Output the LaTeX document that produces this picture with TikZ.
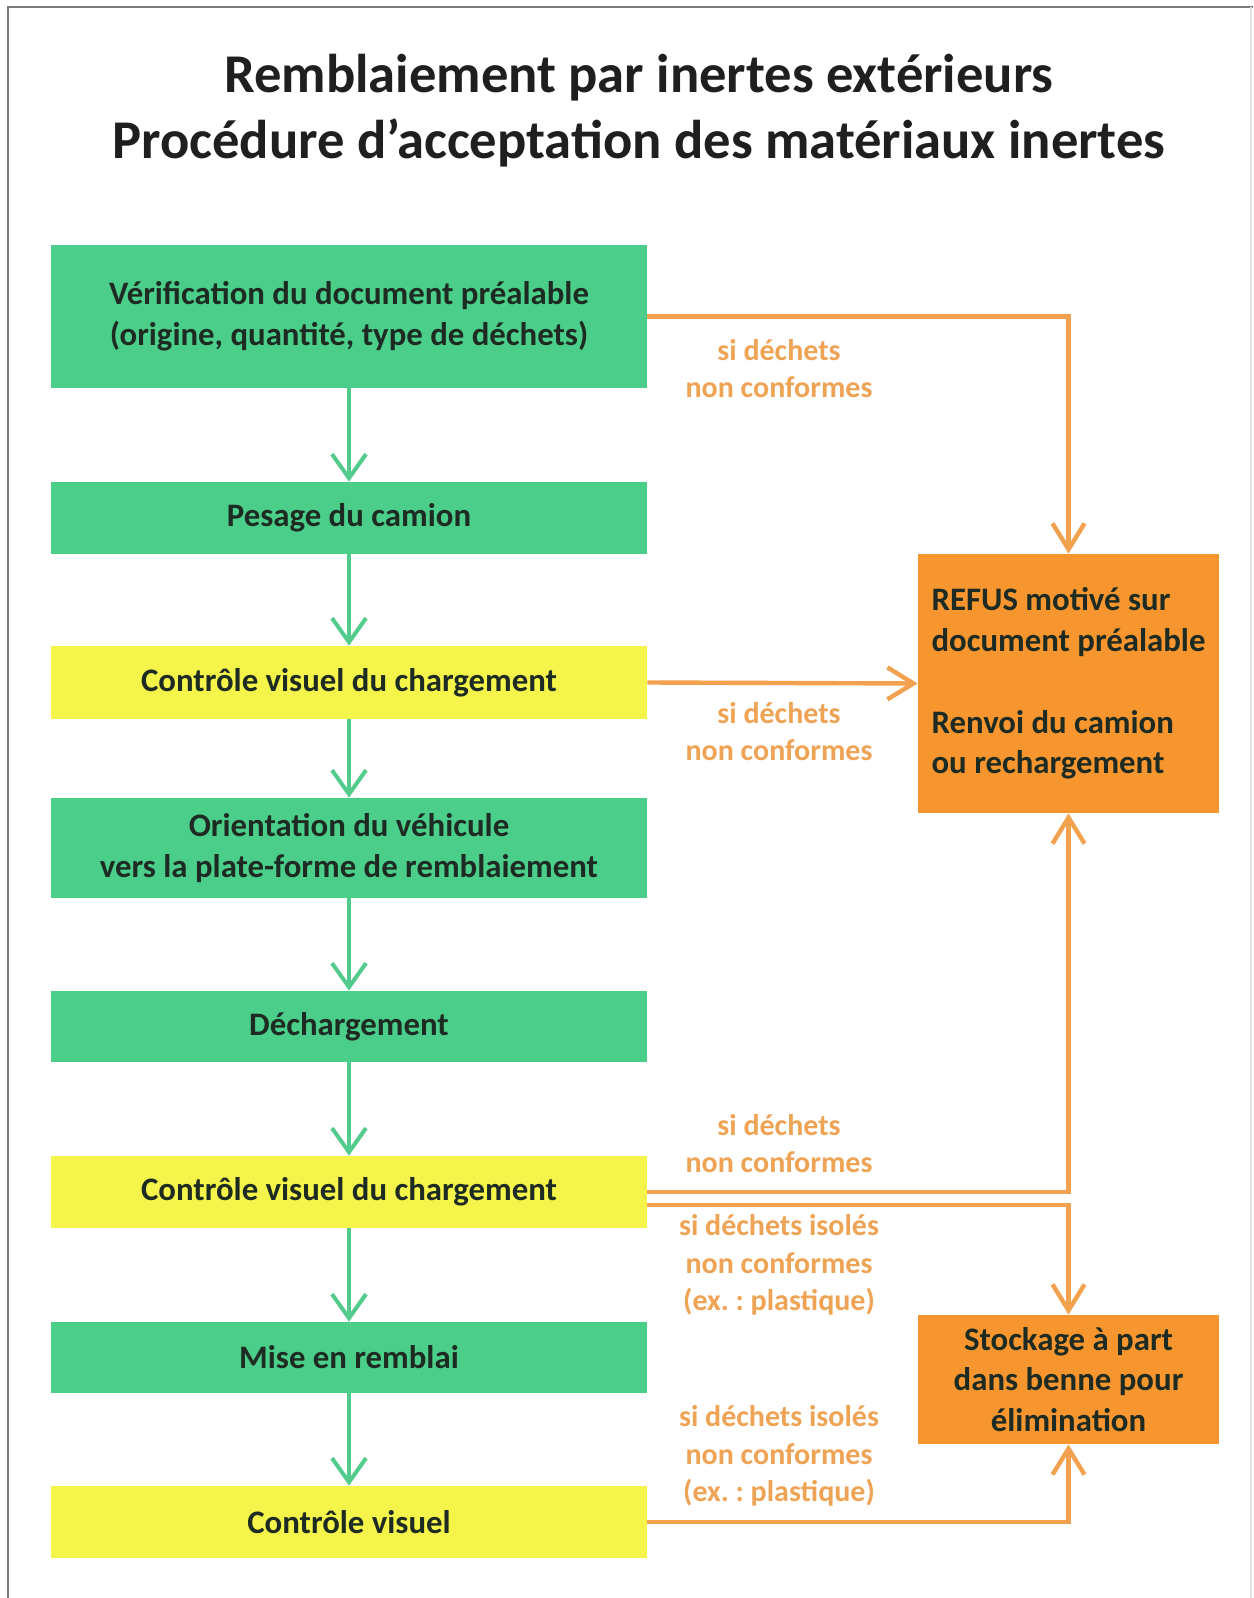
\documentclass[tikz,border=0pt]{standalone}
\usepackage{fontspec}
\setmainfont{Carlito}
\frenchspacing
\usetikzlibrary{arrows.meta}

\definecolor{boxgreen}{HTML}{4BCE8A}
\definecolor{arrowgreen}{HTML}{52CB8C}
\definecolor{boxyellow}{HTML}{F4F44A}
\definecolor{boxorange}{HTML}{F7962F}
\definecolor{lineorange}{HTML}{F2A14E}
\definecolor{textorange}{HTML}{EFA354}
\definecolor{inkdark}{HTML}{1E2B22}
\definecolor{framegray}{HTML}{7A7A7A}

\tikzset{
  stepbox/.style={fill=boxgreen, minimum width=298pt, inner sep=0pt,
    align=center, text=inkdark, font=\bfseries\fontsize{16.4}{20.4}\selectfont},
  checkbox/.style={stepbox, fill=boxyellow},
  outbox/.style={fill=boxorange, minimum width=150.5pt, inner sep=0pt,
    text=inkdark, font=\bfseries\fontsize{16.4}{20.4}\selectfont},
  cond/.style={text=textorange, align=center,
    font=\bfseries\fontsize{15}{18.9}\selectfont},
  flow/.style={draw=arrowgreen, line width=2pt,
    -{Straight Barb[length=12pt,width=17pt,line width=2pt]}},
  reject/.style={draw=lineorange, line width=2.2pt,
    -{Straight Barb[length=13pt,width=16pt,line width=2.2pt]}}
}

\begin{document}
\begin{tikzpicture}[x=0.5pt, y=-0.5pt]
   % Sizes
   \pgfmathsetmacro{\colx}{349}
   \pgfmathsetmacro{\sidex}{1068.5}
   \useasboundingbox (0,0) rectangle (1253,1598);
   \fill[white] (0,0) rectangle (1253,1598);
   \draw[framegray, line width=1pt] (8,1598) -- (8,7) -- (1253,7);
   \draw[black!12, line width=1pt] (1251,7) -- (1251,1598);

   % title
   \node[text=black!88, align=center, font=\bfseries\fontsize{27.3}{33}\selectfont]
     (title) at (639,111) {Remblaiement par inertes extérieurs\\
                           Procédure d’acceptation des matériaux inertes};

   % steps
   \node[stepbox, minimum height=71.5pt] (verif) at (\colx,316.5)
     {Vérification du document préalable\\(origine, quantité, type de déchets)};
   \node[stepbox, minimum height=36pt] (pesage) at (\colx,518) {Pesage du camion};
   \node[checkbox, minimum height=36.5pt] (ctrlA) at (\colx,682.5)
     {Contrôle visuel du chargement};
   \node[stepbox, minimum height=50pt] (orient) at (\colx,848)
     {Orientation du véhicule\\vers la plate-forme de remblaiement};
   \node[stepbox, minimum height=35.5pt] (decharg) at (\colx,1026.5) {Déchargement};
   \node[checkbox, minimum height=36pt] (ctrlB) at (\colx,1192)
     {Contrôle visuel du chargement};
   \node[stepbox, minimum height=35.5pt] (remblai) at (\colx,1357.5) {Mise en remblai};
   \node[checkbox, minimum height=36pt] (ctrlC) at (\colx,1522) {Contrôle visuel};

   % outcomes
   \node[outbox, minimum height=129.5pt, align=left] (refus) at (\sidex,683.5)
     {REFUS motivé sur\\document préalable\\[20.4pt]Renvoi du camion\\ou rechargement};
   \node[outbox, minimum height=64.5pt, align=center] (stock) at (\sidex,1379.5)
     {Stockage à part\\dans benne pour\\élimination};

   % draw diagram
   \draw[flow] (verif) -- (pesage);
   \draw[flow] (pesage) -- (ctrlA);
   \draw[flow] (ctrlA) -- (orient);
   \draw[flow] (orient) -- (decharg);
   \draw[flow] (decharg) -- (ctrlB);
   \draw[flow] (ctrlB) -- (remblai);
   \draw[flow] (remblai) -- (ctrlC);

   \draw[reject] (verif.east) -| (refus.north);
   \draw[reject] (ctrlA.east) -- (refus.west);
   \draw[reject] (ctrlB.east) -| (refus.south);
   \draw[reject] ([yshift=-6.5pt]ctrlB.east) -| (stock.north);
   \draw[reject] (ctrlC.east) -| (stock.south);

   % labels
   \node[cond] (condA) at (779,368.5) {si déchets\\non conformes};
   \node[cond] (condB) at (779,731.5) {si déchets\\non conformes};
   \node[cond] (condC) at (779,1143.5) {si déchets\\non conformes};
   \node[cond] (condD) at (779,1265) {si déchets isolés\\non conformes\\(ex. : plastique)};
   \node[cond] (condE) at (779,1456) {si déchets isolés\\non conformes\\(ex. : plastique)};
\end{tikzpicture}
\end{document}
